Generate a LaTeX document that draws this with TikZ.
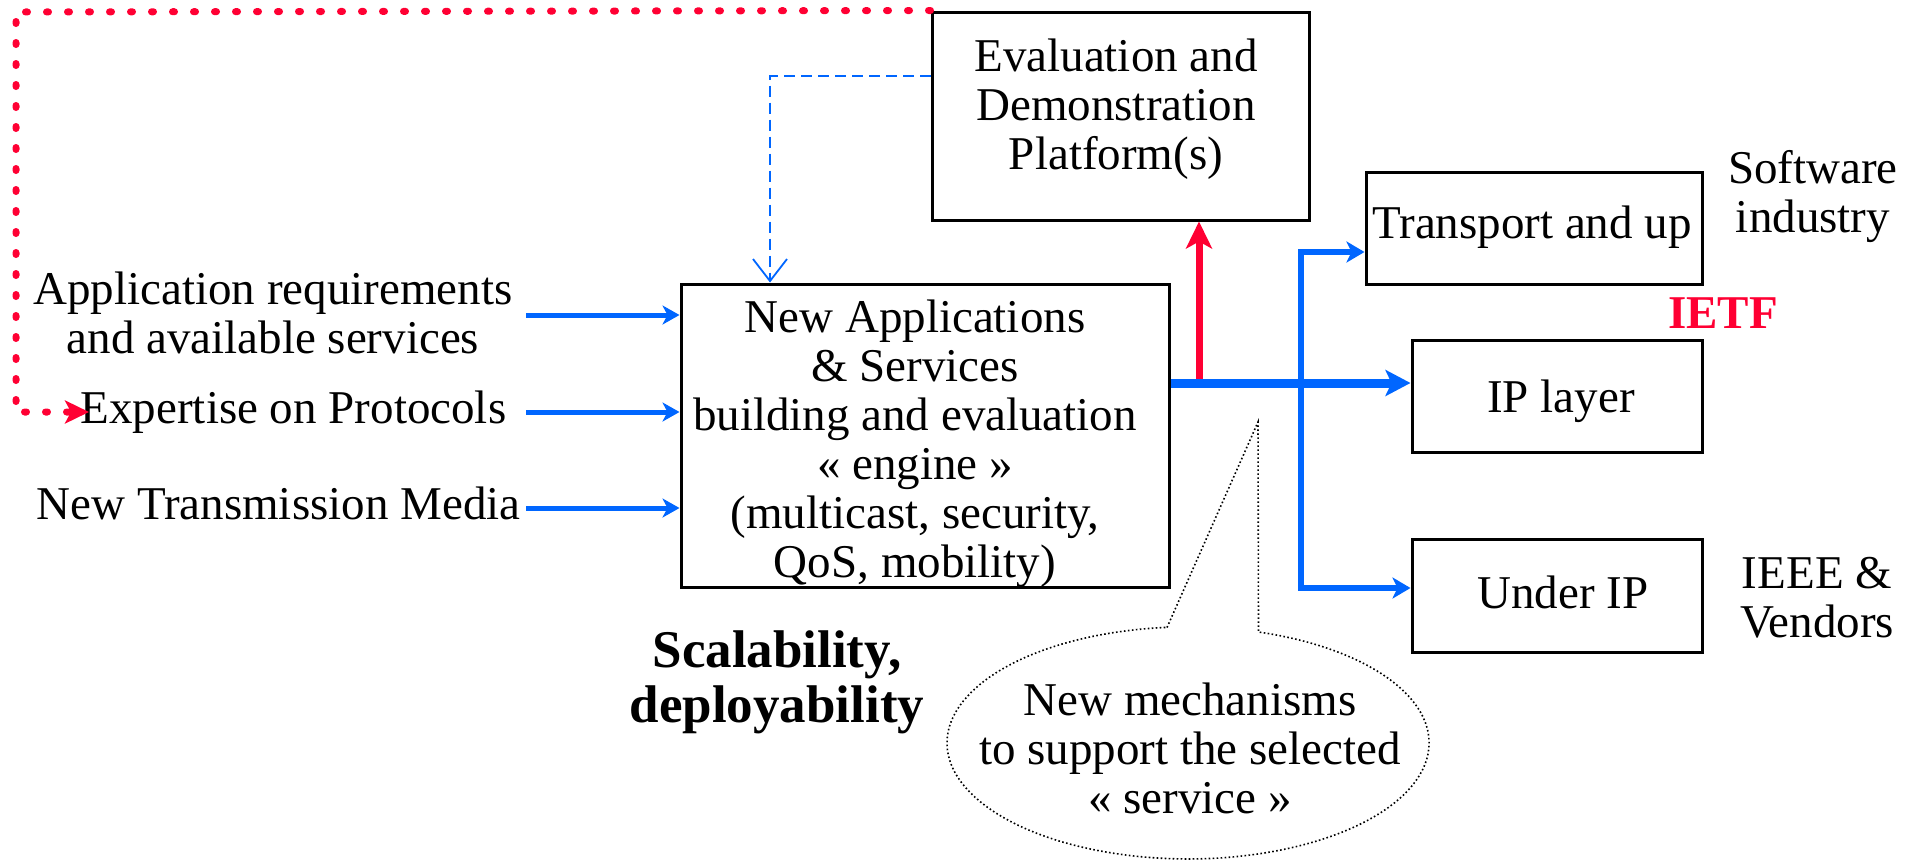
\documentclass[tikz,border=0pt]{standalone}
\usepackage{fontspec}
\setmainfont{Liberation Serif}
\usetikzlibrary{arrows.meta}
\definecolor{myblue}{HTML}{0066FF}
\definecolor{myred}{HTML}{FF0033}
\begin{document}
\begin{tikzpicture}[x=1pt,y=-1pt,
  box/.style={draw=black, line width=3pt, inner sep=0pt},
  txt/.style={font=\fontsize{47}{49}\selectfont, align=center, inner sep=0pt, anchor=base},
  boldtxt/.style={font=\fontsize{53}{55}\selectfont\bfseries, align=center, inner sep=0pt, anchor=base},
  inarrow/.style={draw=myblue, line width=5pt, -{Stealth[length=17pt,width=19pt,inset=5pt]}},
  mainarrow/.style={draw=myblue, line width=9pt, -{Stealth[length=25pt,width=26pt,inset=6pt]}},
  brancharrow/.style={draw=myblue, line width=5.5pt, {Stealth[length=18pt,width=21pt,inset=5pt]}-{Stealth[length=18pt,width=21pt,inset=5pt]}},
  redarrow/.style={draw=myred, line width=7pt, -{Stealth[length=27pt,width=26pt,inset=7pt]}},
  reddot/.style={draw=myred, line width=7pt, line cap=round, dash pattern=on 2pt off 19pt, -{Stealth[length=24pt,width=23pt,inset=6pt,fill=myred]}},
  bluedash/.style={draw=myblue, line width=1.8pt, dash pattern=on 11pt off 6pt, -{Straight Barb[length=22pt,width=34pt]}},
  callout/.style={draw=black, line width=1.6pt, dash pattern=on 1.6pt off 2.4pt}
]
\useasboundingbox (0,0) rectangle (1921,860);

% boxes
\node[box, minimum width=377pt, minimum height=208pt] (eval) at (1120.5,116) {};
\node[box, minimum width=488pt, minimum height=303pt] (main) at (925,435.5) {};
\node[box, minimum width=336pt, minimum height=112pt] (tr) at (1534,228) {};
\node[box, minimum width=290pt, minimum height=112pt] (ip) at (1557,396) {};
\node[box, minimum width=290pt, minimum height=113pt] (uip) at (1557,595.5) {};

% box texts (anchor = baseline of the last line)
\node[txt] (evaltxt) at (1116,169) {Evaluation and\\Demonstration\\Platform(s)};
\node[txt] (maintxt) at (915,577) {New Applications\\\& Services\\building and evaluation\\« engine »\\(multicast, security,\\QoS, mobility)};
\node[txt] (trtxt) at (1532,238) {Transport and up};
\node[txt] (iptxt) at (1561,412) {IP layer};
\node[txt] (uiptxt) at (1563,608) {Under IP};

% side labels
\node[txt] (appreq) at (273,353) {Application requirements\\and available services};
\node[txt] (expert) at (293.5,423) {Expertise on Protocols};
\node[txt] (media) at (278.5,519) {New Transmission Media};
\node[txt] (soft) at (1813,232) {Software\\industry};
\node[txt, font=\fontsize{47}{49}\selectfont\bfseries, text=myred] (ietf) at (1723,328) {IETF};
\node[txt] (ieee) at (1817,637) {IEEE \&\\Vendors};
\node[boldtxt] (scal) at (777,722) {Scalability,\\deployability};

% callout
\coordinate (cl) at (1167,627.5);
\coordinate (tip) at (1258,422);
\coordinate (cr) at (1258.5,632);
\draw[callout] (cl) -- (tip) -- (cr) arc[start angle=287, end angle=625, x radius=241, y radius=116] -- cycle;
\node[txt] (calltxt) at (1190,813) {New mechanisms\\to support the selected\\« service »};

% input arrows
\coordinate (a1) at (526,315);
\coordinate (a2) at (526,412);
\coordinate (a3) at (526,508);
\draw[inarrow] (a1) -- (a1 -| main.west);
\draw[inarrow] (a2) -- (a2 -| main.west);
\draw[inarrow] (a3) -- (a3 -| main.west);

% red dotted feedback
\coordinate (rd1) at (16,12);
\coordinate (rd2) at (16,412);
\coordinate (rdend) at (89,412);
\draw[reddot] (eval.north west) -- (rd1) -- (rd2) -- (rdend);

% dashed blue
\coordinate (dk) at (770,76);
\draw[bluedash] (dk -| eval.west) -- (dk) -- (dk |- main.north);

% red up arrow
\coordinate (rb) at (1199,383);
\draw[redarrow] (rb) -- (rb |- eval.south);

% main output
\coordinate (ml) at (1169,383);
\draw[mainarrow] (ml -| main.east) -- (ml -| ip.west);

% branch
\coordinate (bt) at (1301,252);
\coordinate (bb) at (1301,588);
\draw[brancharrow] (bt -| tr.west) -- (bt) -- (bb) -- (bb -| uip.west);
\end{tikzpicture}
\end{document}
